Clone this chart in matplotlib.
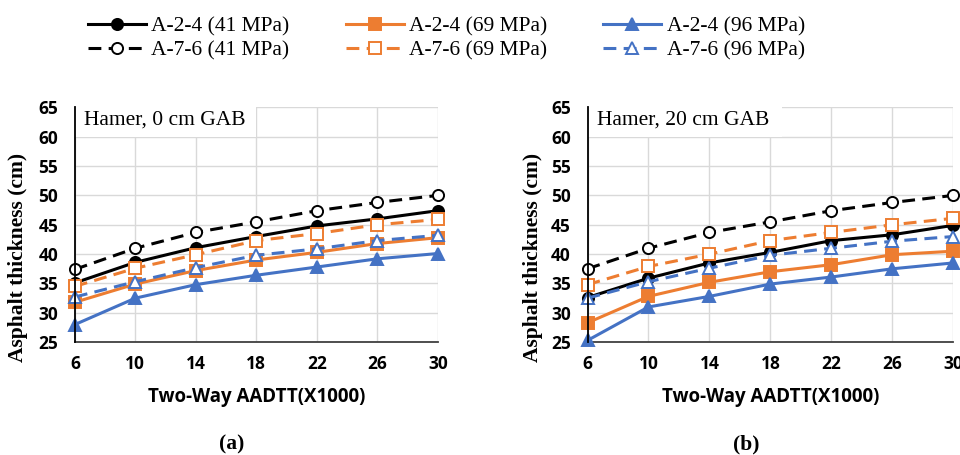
import matplotlib
matplotlib.use('Agg')
from matplotlib import pyplot as plt
from matplotlib.lines import Line2D
from matplotlib.patches import Rectangle

aadtt = [6, 10, 14, 18, 22, 26, 30]

# panel (a): Hamer, 0 cm GAB
a_a24_41 = [35.1, 38.6, 41.1, 43.0, 44.8, 46.0, 47.4]
a_a76_41 = [37.4, 41.0, 43.7, 45.5, 47.4, 48.8, 50.0]
a_a24_69 = [31.8, 34.9, 37.2, 39.0, 40.3, 41.8, 42.8]
a_a76_69 = [34.5, 37.6, 39.9, 42.3, 43.5, 45.0, 45.9]
a_a24_96 = [28.0, 32.5, 34.8, 36.4, 37.8, 39.2, 40.1]
a_a76_96 = [32.7, 35.3, 37.7, 39.8, 40.9, 42.3, 43.2]

# panel (b): Hamer, 20 cm GAB
b_a24_41 = [32.6, 35.9, 38.5, 40.3, 42.3, 43.3, 44.9]
b_a76_41 = [37.5, 41.0, 43.7, 45.5, 47.4, 48.8, 50.0]
b_a24_69 = [28.3, 32.8, 35.2, 37.0, 38.2, 39.9, 40.5]
b_a76_69 = [34.8, 37.9, 40.0, 42.3, 43.7, 45.0, 46.1]
b_a24_96 = [25.3, 31.0, 32.8, 34.9, 36.1, 37.5, 38.5]
b_a76_96 = [32.5, 35.3, 37.6, 39.8, 41.0, 42.2, 43.0]

labels = ['A-2-4 (41 MPa)', 'A-7-6 (41 MPa)',
          'A-2-4 (69 MPa)', 'A-7-6 (69 MPa)',
          'A-2-4 (96 MPa)', 'A-7-6 (96 MPa)']

BLACK = '#000000'
ORANGE = '#ED7D31'
BLUE = '#4472C4'

# (color, marker, dashed)
styles = [(BLACK, 'o', False), (BLACK, 'o', True),
          (ORANGE, 's', False), (ORANGE, 's', True),
          (BLUE, '^', False), (BLUE, '^', True)]

SERIF = 'Liberation Serif'
SANS = 'Open Sans'

plt.rcParams['font.family'] = [SANS, 'DejaVu Sans']
plt.rcParams['font.weight'] = 'bold'


def series_kwargs(color, marker, dashed):
    kw = dict(color=color, marker=marker, lw=2.2, markersize=8,
              markeredgewidth=1.4, markeredgecolor=color)
    if dashed:
        kw['dashes'] = (4.2, 2.4)
        kw['markerfacecolor'] = 'white'
    else:
        kw['markerfacecolor'] = color
    return kw


def draw_panel(ax, data, title, box_w):
    for values, (color, marker, dashed) in zip(data, styles):
        ax.plot(aadtt, values, zorder=3, clip_on=False,
                **series_kwargs(color, marker, dashed))

    ax.set_xlim(6, 30)
    ax.set_ylim(25, 65)
    ax.set_xticks(aadtt)
    ax.set_yticks(range(25, 66, 5))
    ax.grid(True, color='#D9D9D9', lw=1.0, zorder=0)
    ax.set_axisbelow(True)
    for side in ('top', 'right'):
        ax.spines[side].set_visible(False)
    ax.spines['left'].set_color('black')
    ax.spines['left'].set_linewidth(1.3)
    ax.spines['left'].set_zorder(6)
    ax.spines['bottom'].set_color('#404040')
    ax.spines['bottom'].set_linewidth(1.3)
    ax.tick_params(length=0, labelsize=12.5)
    ax.tick_params(axis='x', pad=9)
    ax.tick_params(axis='y', pad=12)

    ax.set_xlabel('Two-Way AADTT(X1000)', fontsize=13.5, fontweight='bold')
    ax.xaxis.set_label_coords(0.5, -0.19)
    ax.set_ylabel('Asphalt thickness (cm)', fontfamily=SERIF,
                  fontweight='bold', fontsize=15.5)

    # white label box in the top-left corner of the plot area
    ax.add_patch(Rectangle((0, 0.872), box_w, 0.15, transform=ax.transAxes,
                           facecolor='white', edgecolor='none',
                           zorder=5, clip_on=False))
    ax.text(0.025, 0.945, title, transform=ax.transAxes, ha='left',
            va='center', fontfamily=SERIF, fontweight='normal',
            fontsize=15.5, zorder=7)


fig = plt.figure(figsize=(9.6, 4.55), dpi=100)
ax1 = fig.add_axes([0.078, 0.248, 0.378, 0.516])
ax2 = fig.add_axes([0.612, 0.248, 0.381, 0.516])

draw_panel(ax1, [a_a24_41, a_a76_41, a_a24_69, a_a76_69, a_a24_96, a_a76_96],
           'Hamer, 0 cm GAB', 0.50)
draw_panel(ax2, [b_a24_41, b_a76_41, b_a24_69, b_a76_69, b_a24_96, b_a76_96],
           'Hamer, 20 cm GAB', 0.533)
ax1.yaxis.set_label_coords(-0.128, 0.36)
ax2.yaxis.set_label_coords(-0.123, 0.36)

fig.text(0.2415, 0.024, '(a)', ha='center', va='center', fontfamily=SERIF,
         fontweight='bold', fontsize=15.5)
fig.text(0.777, 0.024, '(b)', ha='center', va='center', fontfamily=SERIF,
         fontweight='bold', fontsize=15.5)

handles = [Line2D([], [], **series_kwargs(c, m, d)) for c, m, d in styles]
fig.legend(handles, labels, ncol=3, loc='center',
           bbox_to_anchor=(0.465, 0.916), frameon=False,
           prop={'family': SERIF, 'weight': 'normal', 'size': 15.5},
           handlelength=2.7, handletextpad=0.25, columnspacing=2.6,
           labelspacing=0.2, borderpad=0)

fig.savefig('out.png', dpi=100)
